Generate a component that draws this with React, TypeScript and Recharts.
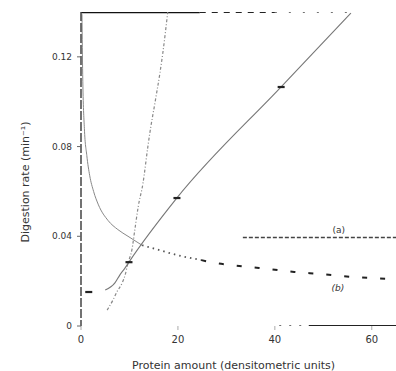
import { ComposedChart, Line, XAxis, YAxis, ReferenceDot } from "recharts"

// x ticks / y ticks
const xTicks = [0, 20, 40, 60]
const yTicks = [0, 0.04, 0.08, 0.12]

// steep dash-dot curve
const steepX = [5.4, 6.6, 7.4, 8.5, 9.1, 9.7, 10.5, 11.1, 11.8, 12.8, 13.8, 14.2, 15.3, 16.3, 16.9, 17.9]
const steepY = [0.0071, 0.0116, 0.0152, 0.0192, 0.0227, 0.0281, 0.0339, 0.0428, 0.0531, 0.0638, 0.08, 0.086, 0.1, 0.113, 0.122, 0.14]

// straight line with markers
const lineX = [5.0, 7.0, 8.0, 9.1, 9.9, 19.8, 41.3, 55.7]
const lineY = [0.016, 0.0192, 0.0227, 0.0259, 0.0285, 0.0571, 0.1066, 0.1395]
const markX = [1.6, 9.9, 19.8, 41.3]
const markY = [0.0152, 0.0285, 0.0571, 0.1066]

// decreasing curve: solid head, dotted middle, dashed tail
const headX = [0.2, 0.35, 0.7, 1.2, 1.8, 2.6, 3.6, 5.6, 7.6, 9.7, 12.6]
const headY = [0.139, 0.112, 0.088, 0.076, 0.067, 0.06, 0.054, 0.047, 0.043, 0.04, 0.036]
const midX = [12.6, 16.7, 18.8, 24.8]
const midY = [0.036, 0.0335, 0.0322, 0.0294]
const tailX = [24.8, 27.7, 31.0, 34.7, 38.8, 44.0, 49.5, 56.5, 64.0, 65]
const tailY = [0.0294, 0.0281, 0.0272, 0.0263, 0.0254, 0.0241, 0.0232, 0.0218, 0.021, 0.0209]

// frame lines at the top / bottom and level (a)
const topSolidX = [0, 24.5]
const topDashX = [24.5, 40]
const topDotX = [40, 56]
const topY = 0.14
const aX = [33.4, 65]
const aY = 0.0395
const bDotX = [40.9, 47]
const bSolidX = [47, 65]
const bY = 0

const pts = (xs: number[], ys: number[] | number) =>
  xs.map((x, i) => ({ x, y: Array.isArray(ys) ? ys[i] : ys }))

const ink = "#333"
const font = "DejaVu Sans"

const Marker = (p: any) => (
  <rect key={`m${p.index}`} x={p.cx - 3.5} y={p.cy - 1} width={7} height={2.2} fill="#222" />
)

const YLabel = () => (
  <text
    x={25}
    y={182}
    transform="rotate(-90 25 182)"
    textAnchor="middle"
    dominantBaseline="central"
    fontSize={11}
    fontFamily={font}
    fill={ink}
  >
    Digestion rate (min⁻¹)
  </text>
)

export default function App() {
  return (
    <div style={{ position: "absolute", left: 0, top: 0, width: 396, height: 371, background: "#fff" }}>
      <ComposedChart width={396} height={371} margin={{ top: 12, right: 0, bottom: 15, left: 0 }}>
        <XAxis
          type="number"
          dataKey="x"
          domain={[0, 65]}
          ticks={xTicks}
          allowDataOverflow
          axisLine={false}
          tickLine={{ stroke: "#aaa" }}
          tickSize={4}
          tickMargin={6}
          height={30}
          tick={{ fontSize: 10, fontFamily: font, fill: ink }}
          label={{
            value: "Protein amount (densitometric units)",
            position: "insideBottom",
            offset: -13,
            dx: -5,
            fontSize: 11,
            fontFamily: font,
            fill: ink,
          }}
        />
        <YAxis
          type="number"
          dataKey="y"
          domain={[0, 0.14]}
          ticks={yTicks}
          allowDataOverflow
          width={81}
          axisLine={{ stroke: "#444", strokeWidth: 1.5, strokeDasharray: "9 2" }}
          tickLine={{ stroke: "#666" }}
          tickSize={4}
          tickMargin={5}
          tick={{ fontSize: 9, fontFamily: font, fill: ink }}
          tickFormatter={(v: number) => (v === 0 ? "0" : v.toFixed(2))}
          label={<YLabel />}
        />

        <Line data={pts(topSolidX, topY)} dataKey="y" stroke="#111" strokeWidth={2.5} dot={false} isAnimationActive={false} />
        <Line data={pts(topDashX, topY)} dataKey="y" stroke="#222" strokeWidth={2} strokeDasharray="6 6" dot={false} isAnimationActive={false} />
        <Line data={pts(topDotX, topY)} dataKey="y" stroke="#444" strokeWidth={1.5} strokeDasharray="2 12" dot={false} isAnimationActive={false} />

        <Line data={pts(aX, aY)} dataKey="y" stroke="#444" strokeWidth={1.5} strokeDasharray="4 2" dot={false} isAnimationActive={false} />
        <Line data={pts(bDotX, bY)} dataKey="y" stroke="#444" strokeWidth={1.5} strokeDasharray="2 8" dot={false} isAnimationActive={false} />
        <Line data={pts(bSolidX, bY)} dataKey="y" stroke="#222" strokeWidth={2} dot={false} isAnimationActive={false} />

        <Line type="monotone" data={pts(headX, headY)} dataKey="y" stroke="#888" strokeWidth={1} dot={false} isAnimationActive={false} />
        <Line type="monotone" data={pts(midX, midY)} dataKey="y" stroke="#555" strokeWidth={1.8} strokeDasharray="1.5 4" dot={false} isAnimationActive={false} />
        <Line type="monotone" data={pts(tailX, tailY)} dataKey="y" stroke="#222" strokeWidth={2} strokeDasharray="5 13" dot={false} isAnimationActive={false} />

        <Line type="monotone" data={pts(steepX, steepY)} dataKey="y" stroke="#888" strokeWidth={1.2} strokeDasharray="3 2 1 2" dot={false} isAnimationActive={false} />
        <Line type="monotone" data={pts(lineX, lineY)} dataKey="y" stroke="#777" strokeWidth={1.1} dot={false} isAnimationActive={false} />
        <Line data={pts(markX, markY)} dataKey="y" stroke="none" dot={Marker} isAnimationActive={false} />

        <ReferenceDot x={53.2} y={0.0428} r={0} stroke="none" label={{ value: "(a)", fontSize: 9, fontFamily: font, fill: ink }} />
        <ReferenceDot x={53} y={0.017} r={0} stroke="none" label={{ value: "(b)", fontSize: 9, fontFamily: font, fill: ink, fontStyle: "italic" }} />
      </ComposedChart>
    </div>
  )
}
